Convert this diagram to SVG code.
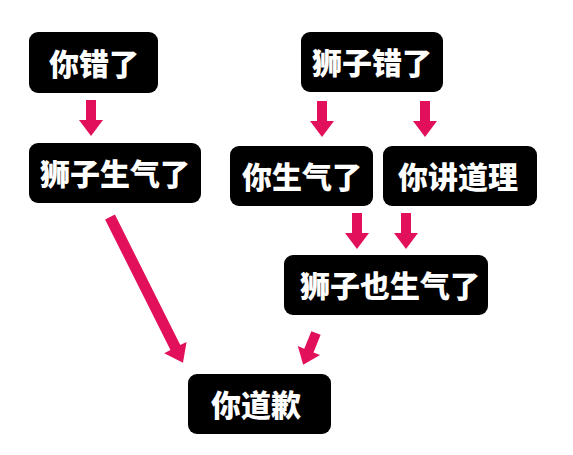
<svg xmlns="http://www.w3.org/2000/svg" xmlns:xlink="http://www.w3.org/1999/xlink" width="573" height="455" viewBox="0 0 573 455">
<style>
.box{fill:#000000;}
.lbl{fill:#ffffff;font-family:"Noto Sans CJK SC","Noto Sans",sans-serif;font-weight:900;font-size:30px;text-anchor:middle;}
.arr{fill:#E2105B;}
</style>
<defs>
<path id="a36" d="M-5,0 H5 V20 H12 L0,36 L-12,20 H-5 Z"/>
<path id="a163" d="M-5.5,0 H5.5 V146 H12.5 L0,163 L-12.5,146 H-5.5 Z"/>
</defs>
<rect width="573" height="455" fill="#ffffff"/>
<g id="connectors" class="arr">
<use xlink:href="#a36" transform="translate(91,100)"/>
<use xlink:href="#a36" transform="translate(322,101)"/>
<use xlink:href="#a36" transform="translate(425,101)"/>
<use xlink:href="#a36" transform="translate(357,213)"/>
<use xlink:href="#a36" transform="translate(406,213)"/>
<use xlink:href="#a163" transform="translate(110,217) rotate(-26.6)"/>
<use xlink:href="#a36" transform="translate(316,333) rotate(22) scale(1,0.95)"/>
</g>
<g id="n1"><rect class="box" x="29" y="32" width="129" height="61" rx="9"/><text class="lbl" x="94" y="75">你错了</text></g>
<g id="n2"><rect class="box" x="29" y="143" width="172" height="60" rx="9"/><text class="lbl" x="115" y="185">狮子生气了</text></g>
<g id="n3"><rect class="box" x="301" y="32" width="142" height="60" rx="9"/><text class="lbl" x="372" y="74">狮子错了</text></g>
<g id="n4"><rect class="box" x="230" y="146" width="143" height="60" rx="9"/><text class="lbl" x="302" y="188">你生气了</text></g>
<g id="n5"><rect class="box" x="383" y="146" width="154" height="60" rx="9"/><text class="lbl" x="458" y="188">你讲道理</text></g>
<g id="n6"><rect class="box" x="284" y="255" width="204" height="60" rx="9"/><text class="lbl" x="390" y="297">狮子也生气了</text></g>
<g id="n7"><rect class="box" x="188" y="374" width="143" height="60" rx="9"/><text class="lbl" x="256" y="416">你道歉</text></g>
</svg>
